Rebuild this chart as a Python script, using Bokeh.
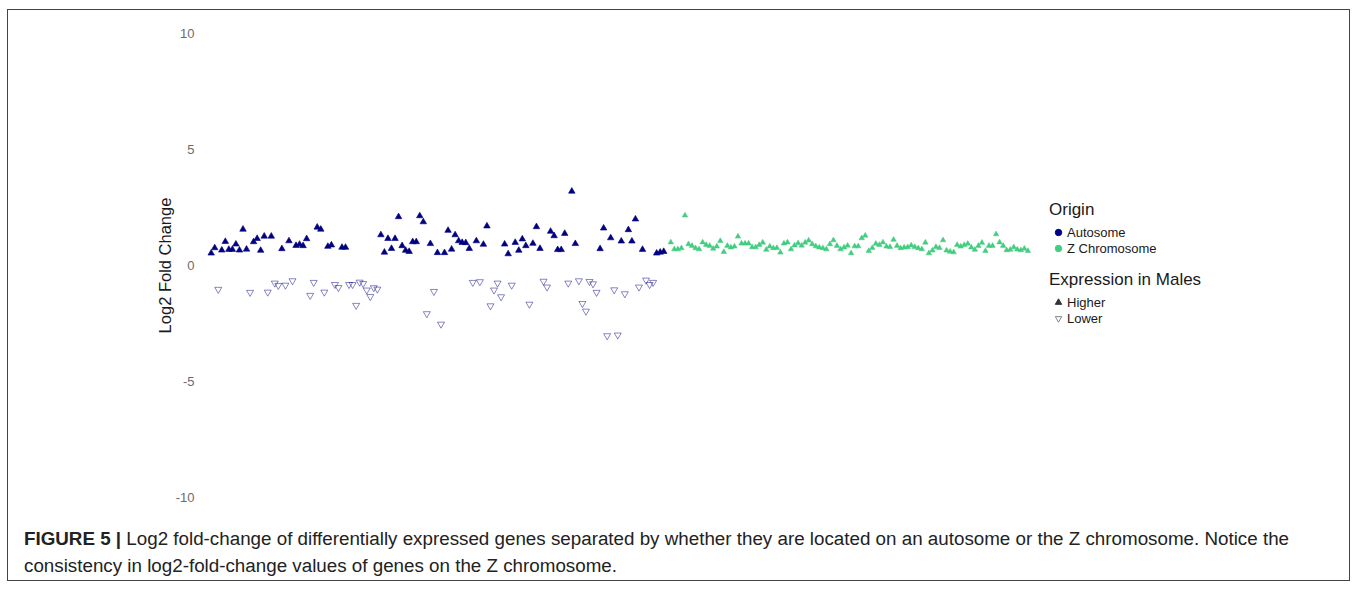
from bokeh.plotting import figure
from bokeh.models import ColumnDataSource, Range1d, FixedTicker, Legend, LegendItem, Div
from bokeh.layouts import column
from bokeh.embed import file_html
from bokeh.resources import INLINE

# ---------------- data ----------------
# Log2 fold change of autosomal DE genes, in plotted order
auto_lfc = [0.53, 0.76, -1.03, 0.66, 1.03, 0.69, 0.69, 0.92, 0.66, 1.56,
            0.70, -1.16, 1.02, 1.16, 0.65, 1.26, -1.15, 1.26, -0.76, -0.86,
            0.72, -0.85, 1.06, -0.66, 0.86, 0.91, 0.85, 1.15, -1.29, -0.73,
            1.65, 1.56, -1.15, 0.82, 0.88, -0.82, -0.95, 0.78, 0.78, -0.82,
            -0.82, -1.72, -0.72, -0.78, -1.06, -1.34, -0.96, -1.02, 1.32, 0.57,
            1.16, 0.73, 1.16, 2.10, 0.85, 0.65, 0.60, 1.02, 1.02, 2.14,
            1.88, -2.08, 0.94, -1.12, 0.55, -2.53, 0.55, 1.51, 0.70, 1.32,
            1.06, 0.99, 0.98, 0.73, -0.73, 1.06, -0.70, 0.91, 1.70, -1.74,
            -1.06, -0.76, -1.35, 0.92, 0.50, -0.85, 0.99, 0.65, 1.14, 0.85,
            -1.67, 0.95, 1.67, 0.73, -0.68, -0.93, 1.47, 1.28, 0.68, 0.68,
            1.38, -0.76, 3.20, 0.94, -0.66, -1.64, -1.97, -0.69, -0.79, -1.16,
            0.72, 1.61, -3.03, 1.19, -1.05, -3.00, 1.05, -1.22, 1.54, 1.05,
            2.00, -0.93, 0.69, -0.63, -0.82, -0.73, 0.53, 0.57, 0.60]

# Log2 fold change of Z-chromosome DE genes, in plotted order
z_lfc = [1.00, 0.70, 0.70, 0.75, 2.16, 0.92, 0.85, 0.75, 0.70, 1.00,
         0.89, 0.85, 0.73, 0.82, 1.06, 0.59, 0.85, 0.78, 0.82, 1.25,
         0.95, 0.95, 0.95, 0.79, 0.79, 0.89, 0.99, 0.68, 0.82, 0.75,
         0.76, 0.56, 0.95, 1.00, 0.70, 0.87, 0.96, 0.86, 0.99, 1.08,
         0.92, 0.83, 0.78, 0.75, 0.70, 0.92, 1.09, 0.85, 0.70, 0.78,
         0.86, 0.53, 0.83, 0.83, 1.18, 1.29, 0.63, 0.76, 0.94, 0.89,
         1.00, 0.82, 0.80, 1.11, 0.85, 0.75, 0.78, 0.79, 0.87, 0.80,
         0.75, 0.70, 0.99, 0.53, 0.65, 0.80, 0.76, 1.09, 0.65, 0.60,
         0.57, 0.89, 0.82, 0.89, 0.94, 0.78, 0.68, 0.85, 0.98, 0.63,
         0.85, 0.85, 1.35, 1.00, 0.85, 0.66, 0.68, 0.79, 0.69, 0.66,
         0.73, 0.63]

origin_labels = ["Autosome", "Z Chromosome"]
expr_labels = ["Higher", "Lower"]
y_ticks = [-10, -5, 0, 5, 10]

# gene index along x
auto_x = list(range(2, 2 + len(auto_lfc)))
z_x = list(range(132, 132 + len(z_lfc)))

AUTO_COL = "navy"
Z_COL = "#43CD80"
FONT = "Liberation Sans"
NAN = float("nan")

up = ColumnDataSource(dict(x=[x for x, v in zip(auto_x, auto_lfc) if v > 0],
                           y=[v for v in auto_lfc if v > 0]))
down = ColumnDataSource(dict(x=[x for x, v in zip(auto_x, auto_lfc) if v < 0],
                             y=[v for v in auto_lfc if v < 0]))
zsrc = ColumnDataSource(dict(x=z_x, y=z_lfc))

p = figure(width=1341, height=515, output_backend="svg", toolbar_location=None,
           x_range=Range1d(-0.17, 321.7), y_range=Range1d(-11, 11),
           min_border_left=195, min_border_right=8, min_border_top=0, min_border_bottom=5)
p.outline_line_color = None
p.grid.visible = False
p.xaxis.visible = False
p.background_fill_color = "white"
p.margin = (0, 0, 0, 0)

ax = p.yaxis[0]
ax.ticker = FixedTicker(ticks=y_ticks)
ax.major_label_overrides = {t: str(t) for t in y_ticks}
ax.major_tick_line_color = None
ax.minor_tick_line_color = None
ax.axis_line_color = None
ax.major_label_standoff = 3
ax.major_label_text_font = FONT
ax.major_label_text_font_size = "13px"
ax.major_label_text_color = "#6b6b6b"
ax.axis_label = "Log2 Fold Change"
ax.axis_label_text_font = FONT
ax.axis_label_text_font_size = "16.5px"
ax.axis_label_text_font_style = "normal"
ax.axis_label_text_color = "#1a1a1a"
ax.axis_label_standoff = -1

p.scatter("x", "y", source=up, marker="triangle", size=6.5,
          fill_color=AUTO_COL, line_color=AUTO_COL, line_width=0.6)
p.scatter("x", "y", source=down, marker="inverted_triangle", size=7,
          fill_color=None, line_color=AUTO_COL, line_width=0.8, line_alpha=0.6)
p.scatter("x", "y", source=zsrc, marker="triangle", size=5.5,
          fill_color=Z_COL, line_color=Z_COL, line_width=0.5)

# legend keys (renderers with no visible point)
nan_src = lambda: ColumnDataSource(dict(x=[NAN], y=[NAN]))
k_auto = p.scatter("x", "y", source=nan_src(), marker="circle", size=4, color=AUTO_COL)
k_z = p.scatter("x", "y", source=nan_src(), marker="circle", size=4, color=Z_COL)
k_hi = p.scatter("x", "y", source=nan_src(), marker="triangle", size=5, color="#333333")
k_lo = p.scatter("x", "y", source=nan_src(), marker="inverted_triangle", size=6,
                 fill_color=None, line_color="#666666", line_width=0.8)

def make_legend(title, labels, rends, loc):
    leg = Legend(items=[LegendItem(label=l, renderers=[r]) for l, r in zip(labels, rends)],
                 title=title, location=loc, orientation="vertical")
    leg.title_text_font = FONT
    leg.title_text_font_size = "17px"
    leg.title_text_font_style = "normal"
    leg.title_text_color = "#1a1a1a"
    leg.title_standoff = 4
    leg.label_text_font = FONT
    leg.label_text_font_size = "13px"
    leg.label_text_color = "#1a1a1a"
    leg.label_height = 16
    leg.glyph_height = 16
    leg.glyph_width = 18
    leg.label_standoff = 0
    leg.spacing = 0
    leg.padding = 0
    leg.margin = 0
    leg.border_line_color = None
    leg.background_fill_alpha = 0
    return leg

p.add_layout(make_legend("Origin", origin_labels, [k_auto, k_z], (846, 264)))
p.add_layout(make_legend("Expression in Males", expr_labels, [k_hi, k_lo], (846, 194)))

caption = Div(
    text=('<div style="padding-left:16px;font-family:\'Liberation Sans\',Arial,sans-serif;'
          'font-size:18.8px;line-height:27px;color:#222;white-space:nowrap;">'
          '<b>FIGURE 5 |</b> Log2 fold-change of differentially expressed genes separated by '
          'whether they are located on an autosome or the Z chromosome. Notice the<br>'
          'consistency in log2-fold-change values of genes on the Z chromosome.</div>'),
    width=1341, height=55, margin=(0, 0, 0, 0))

layout = column(p, caption, styles={"border": "1px solid #444444"}, margin=(9, 0, 0, 7))

open("out.html", "w").write(file_html(layout, INLINE))
